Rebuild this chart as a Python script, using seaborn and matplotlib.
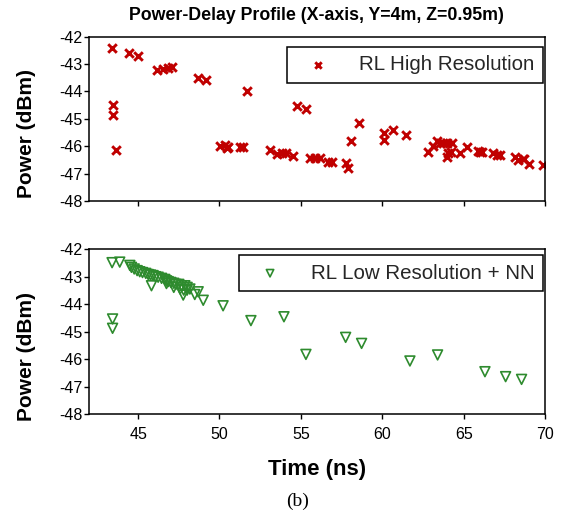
import matplotlib
matplotlib.use("Agg")
import matplotlib.pyplot as plt
import seaborn as sns
import pandas as pd

# ---- data -------------------------------------------------------------
hi_time = [43.40, 44.43, 45.00, 46.17, 46.54, 46.84, 47.09, 48.69, 49.16, 51.72,
           43.46, 43.46, 43.61, 54.77, 55.31, 50.02, 50.33, 50.45, 50.53, 51.25,
           51.45, 53.09, 53.51, 53.85, 54.08, 54.49, 55.55, 55.86, 56.17, 56.68,
           56.89, 57.75, 57.87, 58.07, 58.58, 60.12, 60.12, 60.64, 61.45, 62.79,
           63.13, 63.34, 63.54, 63.75, 63.95, 64.26, 63.95, 64.05, 64.20, 64.77,
           65.18, 65.90, 66.00, 66.10, 66.82, 67.03, 67.23, 68.15, 68.36, 68.63,
           68.71, 69.03, 69.89]
hi_power = [-42.42, -42.61, -42.69, -43.22, -43.19, -43.15, -43.12, -43.50, -43.57, -43.99,
            -44.50, -44.86, -46.15, -44.53, -44.63, -45.98, -45.95, -46.07, -46.01, -46.04,
            -46.04, -46.14, -46.29, -46.23, -46.26, -46.34, -46.43, -46.42, -46.42, -46.56,
            -46.58, -46.62, -46.80, -45.80, -45.16, -45.50, -45.77, -45.41, -45.59, -46.20,
            -45.99, -45.80, -45.87, -45.89, -45.89, -45.87, -46.38, -46.23, -46.20, -46.26,
            -46.01, -46.16, -46.20, -46.20, -46.23, -46.32, -46.32, -46.40, -46.50, -46.47,
            -46.45, -46.65, -46.68]

lo_time = [43.40, 43.87, 44.49, 44.59, 44.76, 44.94, 45.10, 45.27, 45.47, 45.62,
           45.76, 45.92, 46.07, 46.23, 46.44, 46.64, 46.74, 46.85, 47.01, 47.19,
           47.32, 47.50, 47.67, 47.87, 48.01, 48.18, 45.82, 46.74, 47.19, 47.58,
           47.80, 47.77, 48.01, 48.48, 48.69, 49.00, 50.22, 43.43, 43.43, 51.93,
           53.96, 55.31, 57.75, 58.73, 61.70, 63.40, 66.31, 67.58, 68.56]
lo_power = [-42.49, -42.47, -42.59, -42.66, -42.72, -42.78, -42.82, -42.85, -42.88, -42.92,
            -42.94, -42.96, -43.00, -43.02, -43.06, -43.10, -43.15, -43.18, -43.21, -43.24,
            -43.28, -43.28, -43.33, -43.33, -43.39, -43.45, -43.33, -43.25, -43.39, -43.45,
            -43.49, -43.67, -43.49, -43.65, -43.55, -43.86, -44.06, -44.54, -44.88, -44.60,
            -44.46, -45.83, -45.21, -45.43, -46.07, -45.85, -46.46, -46.64, -46.74]

x_ticks = [45, 50, 55, 60, 65, 70]
y_ticks = [-42, -43, -44, -45, -46, -47, -48]
y_ticklabels = ["-42", "-43", "-44", "-45", "-46", "-47", "-48"]

hi_df = pd.DataFrame({"Time": hi_time, "Power": hi_power})
lo_df = pd.DataFrame({"Time": lo_time, "Power": lo_power})

# ---- style ------------------------------------------------------------
sns.set_theme(style="ticks")
plt.rcParams["font.family"] = ["Liberation Sans", "DejaVu Sans"]

RED = "#C00000"
GREEN = "#2E8B2E"

fig = plt.figure(figsize=(5.69, 5.17), dpi=100)
L, R = 89.3 / 569, 545 / 569
ax1 = fig.add_axes([L, 1 - 201 / 517, R - L, (201 - 36.7) / 517])
ax2 = fig.add_axes([L, 1 - 414 / 517, R - L, (414 - 249.2) / 517])

sns.scatterplot(data=hi_df, x="Time", y="Power", ax=ax1, marker="x",
                color=RED, s=38, linewidth=2.1, label="RL High Resolution")
sns.scatterplot(data=lo_df, x="Time", y="Power", ax=ax2, marker="v",
                s=50, linewidth=1.2, label="RL Low Resolution + NN")
coll = ax2.collections[0]
coll.set_facecolor("none")
coll.set_edgecolor(GREEN)

for ax, ly in ((ax1, 0.41), (ax2, 0.35)):
    ax.set_xlim(42, 70)
    ax.set_ylim(-48, -42)
    ax.set_xticks(x_ticks)
    ax.set_yticks(y_ticks)
    ax.set_yticklabels(y_ticklabels)
    for sp in ax.spines.values():
        sp.set_visible(True)
        sp.set_color("black")
        sp.set_linewidth(1.1)
    ax.tick_params(axis="both", direction="out", length=3.5, width=1.0,
                   color="black", labelsize=11.5, labelcolor="black")
    ax.tick_params(axis="y", pad=1.5)
    ax.tick_params(axis="x", pad=6)
    ax.set_ylabel("Power (dBm)", fontsize=15, fontweight="bold", color="black")
    ax.yaxis.set_label_coords(-0.118, ly)
    ax.grid(False)

ax1.set_xlabel("")
ax1.tick_params(axis="x", labelbottom=False)
ax2.set_xlabel("Time (ns)", fontsize=16, fontweight="bold", color="black", labelpad=12)

def style_legend(ax, anchor):
    leg = ax.legend(loc="upper right", bbox_to_anchor=anchor, fontsize=14.8,
                    frameon=True, fancybox=False, framealpha=1, edgecolor="black",
                    borderpad=0.42, handlelength=2.2, handletextpad=0.9,
                    markerscale=0.75, borderaxespad=0)
    leg.get_frame().set_linewidth(1.1)
    return leg

style_legend(ax1, (0.9956, 0.939))
leg2 = style_legend(ax2, (0.9965, 0.965))
for h in leg2.legend_handles:
    h.set_facecolor("none")
    h.set_edgecolor(GREEN)

fig.text(316 / 569, 1 - 16 / 517, "Power-Delay Profile (X-axis, Y=4m, Z=0.95m)",
         ha="center", va="center", fontsize=12.8, fontweight="bold", color="black")
fig.text(298 / 569, 1 - 501 / 517, "(b)", ha="center", va="center",
         fontsize=14, family=["Liberation Serif", "DejaVu Serif"], color="black")

fig.savefig("out.png", dpi=100, facecolor="white")
